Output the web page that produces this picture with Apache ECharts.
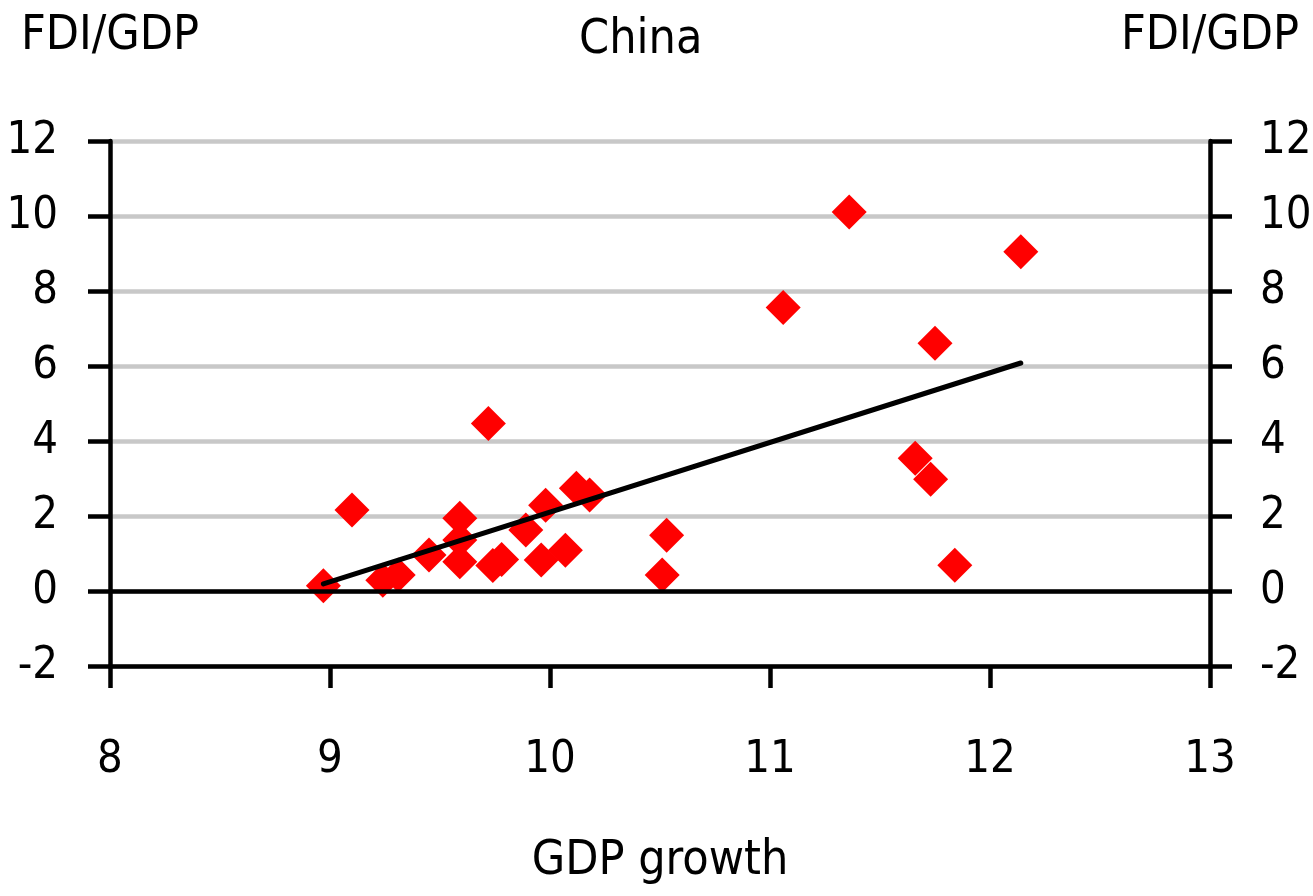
<!DOCTYPE html>
<html>
<head>
<meta charset="utf-8">
<script src="https://cdn.jsdelivr.net/npm/echarts@6/dist/echarts.min.js"></script>
<style>
html,body{margin:0;padding:0;background:#fff;}
#chart{width:1313px;height:896px;}
</style>
</head>
<body>
<div id="chart"></div>
<script>
const titleText = "China";
const yName = "FDI/GDP";
const xName = "GDP growth";
const gdpGrowth = [8.97, 9.10, 9.24, 9.31, 9.45, 9.59, 9.59, 9.59, 9.72, 9.74, 9.78, 9.89, 9.96, 9.98, 10.07, 10.12, 10.18, 10.51, 10.53, 11.06, 11.36, 11.66, 11.73, 11.75, 11.84, 12.14];
const fdiGdp    = [0.14, 2.16, 0.29, 0.43, 0.96, 1.94, 1.36, 0.78, 4.47, 0.68, 0.84, 1.63, 0.83, 2.29, 1.09, 2.74, 2.56, 0.43, 1.49, 7.56, 10.11, 3.54, 2.98, 6.61, 0.69, 9.05];
const trendX = [8.97, 12.14];
const trendY = [0.19, 6.08];

const FONT = "'DejaVu Sans Condensed','Liberation Sans Narrow',sans-serif";
const FS = 48;
const LFS = 45;

const chart = echarts.init(document.getElementById('chart'), null, {renderer:'canvas'});
const yAxisBase = {
  type:'value', min:-2, max:12, interval:2,
  name: yName, nameLocation:'end', nameGap: 80,
  nameTextStyle:{fontFamily:FONT, fontSize:FS, color:'#000'},
  axisLine:{show:true, lineStyle:{color:'#000', width:4.5}},
  axisTick:{show:true, inside:false, length:22, lineStyle:{color:'#000', width:4.5}},
  axisLabel:{fontFamily:FONT, fontSize:LFS, color:'#000', margin:52}
};
chart.setOption({
  animation:false,
  backgroundColor:'#fff',
  title:{text:titleText, left:574, top:12, textStyle:{fontFamily:FONT, fontSize:FS, fontWeight:'normal', color:'#000'}},
  grid:{left:110, right:103, top:141, bottom:230, containLabel:false, outerBoundsMode:'none'},
  xAxis:{
    type:'value', min:8, max:13, interval:1,
    name:xName, nameLocation:'middle', nameGap:172,
    nameTextStyle:{fontFamily:FONT, fontSize:FS, color:'#000'},
    axisLine:{show:true, onZero:false, lineStyle:{color:'#000', width:4.5}},
    axisTick:{show:true, inside:false, length:22, lineStyle:{color:'#000', width:4.5}},
    axisLabel:{fontFamily:FONT, fontSize:LFS, color:'#000', margin:72},
    splitLine:{show:false}
  },
  yAxis:[
    Object.assign({}, yAxisBase, {position:'left',
      splitLine:{show:true, lineStyle:{color:'#c8c8c8', width:4.5}}}),
    Object.assign({}, yAxisBase, {position:'right', splitLine:{show:false},
      axisLabel:{fontFamily:FONT, fontSize:LFS, color:'#000', margin:50}})
  ],
  series:[
    {
      type:'line', data:[], yAxisIndex:0, silent:true,
      markLine:{symbol:'none', silent:true, label:{show:false},
        lineStyle:{color:'#000', width:4.5, type:'solid'},
        data:[{yAxis:0}]}
    },
    {
      type:'scatter', yAxisIndex:0,
      symbol:'diamond', symbolSize:35,
      itemStyle:{color:'#ff0000', opacity:1},
      data: gdpGrowth.map((x,i)=>[x, fdiGdp[i]]),
      z:3
    },
    {
      type:'line', yAxisIndex:0, symbol:'none',
      lineStyle:{color:'#000', width:5, cap:'round'},
      data: trendX.map((x,i)=>[x, trendY[i]]),
      z:4
    }
  ]
});
</script>
</body>
</html>
